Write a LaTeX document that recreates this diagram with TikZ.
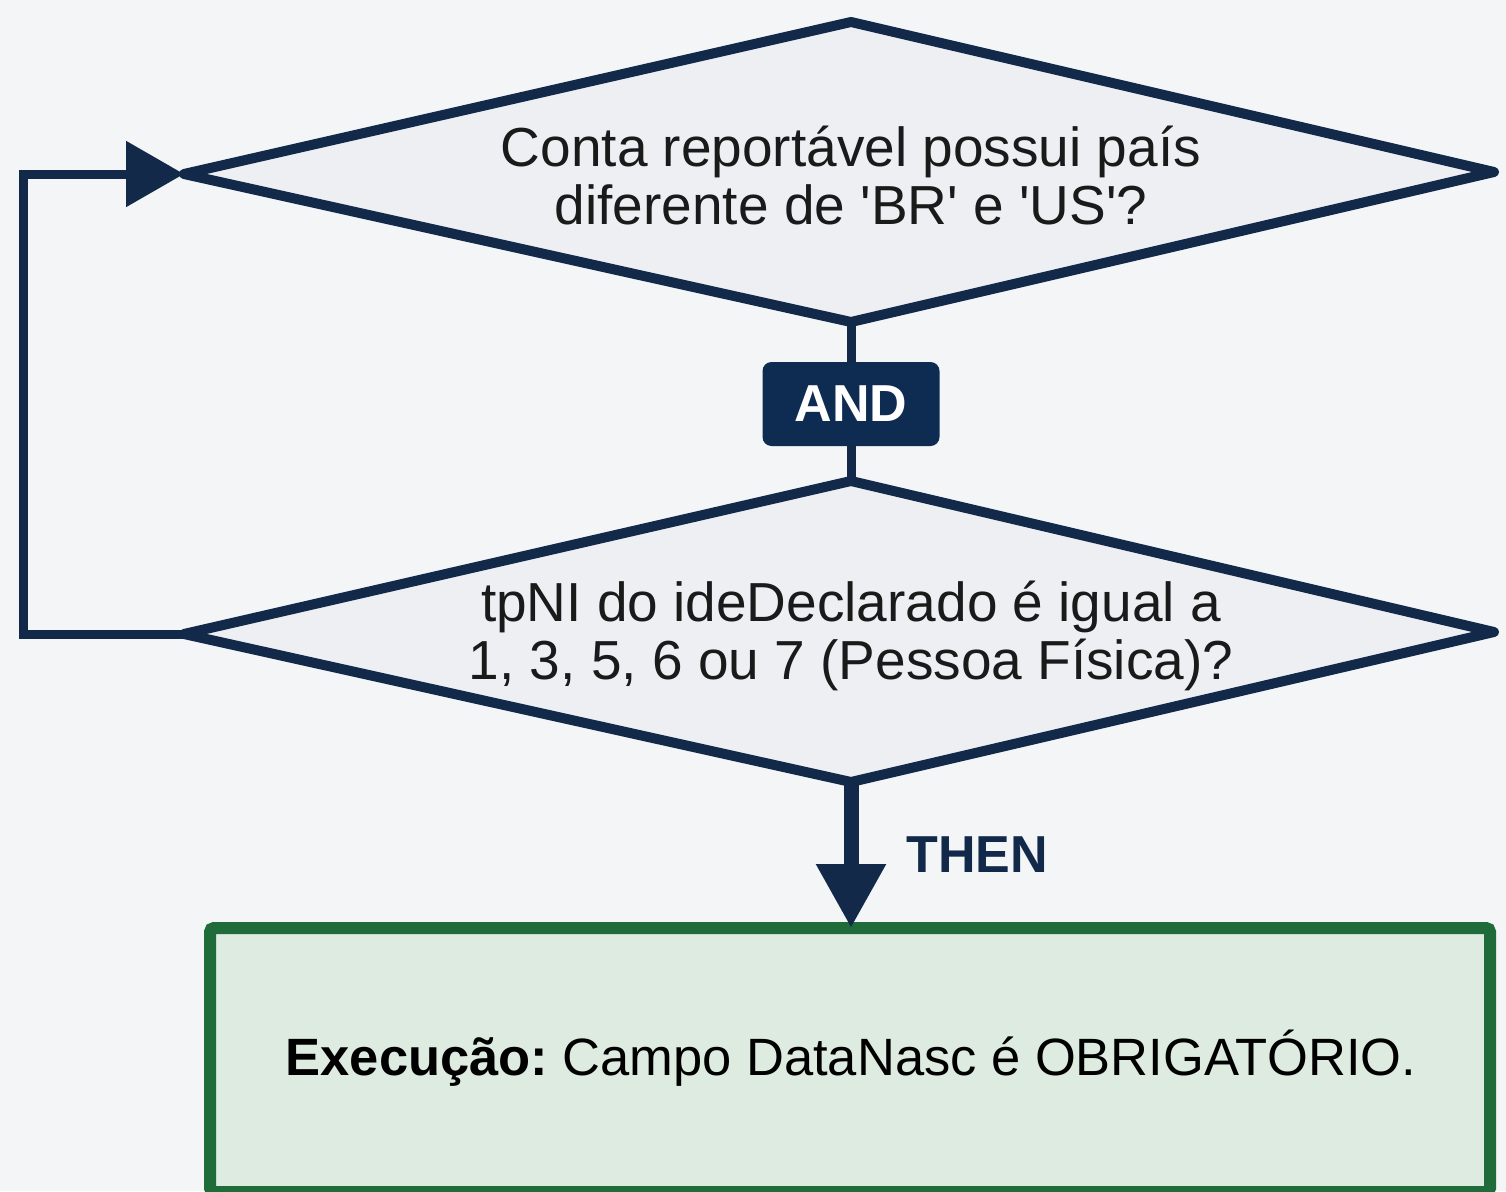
\documentclass[tikz,border=0pt]{standalone}
\usepackage{fontspec}
\setmainfont{Liberation Sans}[Ligatures=TeXOff]
\usetikzlibrary{arrows.meta}
\definecolor{navy}{HTML}{12294A}
\definecolor{andfill}{HTML}{0E2C52}
\definecolor{bg}{HTML}{F3F5F7}
\definecolor{dfill}{HTML}{EDEFF2}
\definecolor{gborder}{HTML}{1F6B3A}
\definecolor{gfill}{HTML}{DDEBE0}
\definecolor{txt}{HTML}{1A1A1A}
\tikzset{
  outline/.style={draw=navy, line width=10pt, line join=round, fill=dfill},
  dtext/.style={align=center, font=\fontsize{55}{58}\selectfont, text=txt, inner sep=0pt},
  conn/.style={draw=navy, line width=9pt},
  andbox/.style={fill=andfill, rounded corners=9pt, minimum width=177pt, minimum height=84pt, inner sep=0pt, text=white, font=\fontsize{52}{54}\selectfont\bfseries},
  thenlbl/.style={text=navy, font=\fontsize{52}{56}\selectfont\bfseries, inner sep=0pt},
  execbox/.style={draw=gborder, line width=12pt, fill=gfill, rounded corners=4pt},
}
\begin{document}
\begin{tikzpicture}[x=1pt,y=-1pt]
\useasboundingbox (0,0) rectangle (1506,1191);
\fill[bg] (0,0) rectangle (1506,1191);
% diamond 1
\coordinate (d1t) at (851,22);
\coordinate (d1b) at (851,322);
\coordinate (d1l) at (184,174);
\coordinate (d1r) at (1494,172);
\path[outline] (d1t) -- (d1r) -- (d1b) -- (d1l) -- cycle;
\node[dtext] (q1) at (851,176) {Conta reportável possui país\\diferente de 'BR' e 'US'?};
% diamond 2
\coordinate (d2t) at (851,481);
\coordinate (d2b) at (851,782);
\coordinate (d2l) at (184,634);
\coordinate (d2r) at (1494,632);
\path[outline] (d2t) -- (d2r) -- (d2b) -- (d2l) -- cycle;
\node[dtext] (q2) at (851,636) {tpNI do ideDeclarado é igual a\\1, 3, 5, 6 ou 7 (Pessoa Física)?};
% AND
\node[andbox] (and) at (851,404) {AND};
\draw[conn] (d1b) -- (and.north);
\draw[conn] (and.south) -- (d2t);
% exec box
\path[execbox] (210,928) rectangle (1490,1192);
\coordinate (ex) at (851,928);
\node[font=\fontsize{52.5}{58}\selectfont, text=black, inner sep=0pt] (exec) at (851,1058) {\textbf{Execução:}\hspace{-0.1em} Campo DataNasc é OBRIGATÓRIO.};
% THEN arrow
\draw[draw=navy, line width=15pt, -{Triangle[length=64pt,width=66pt]}] (d2b) -- (ex);
\node[thenlbl] (then) at (977,855) {THEN};
% loop back
\coordinate (lb) at (23,634);
\coordinate (lt) at (23,174);
\draw[conn, line join=miter, -{Triangle[length=58pt,width=64pt]}] (d2l) -- (lb) -- (lt) -- (d1l);
\end{tikzpicture}
\end{document}
